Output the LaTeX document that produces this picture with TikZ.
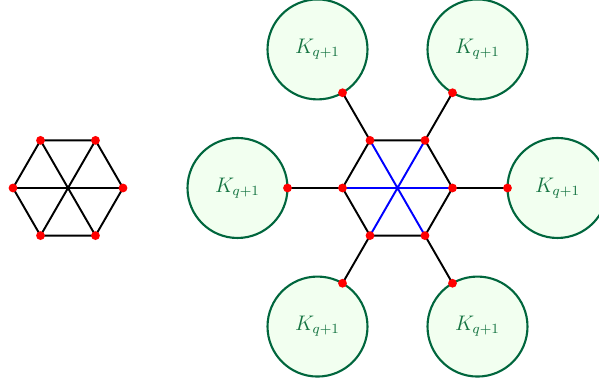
\documentclass[tikz,border=0pt]{standalone}
\begin{document}
\begin{tikzpicture}[x=0.02cm,y=0.02cm,
  edge/.style={line width=1.1pt,black},
  blueedge/.style={line width=1.1pt,blue},
  dot/.style={circle,fill=red,inner sep=0pt,minimum size=5pt},
  clique/.style={circle,draw={rgb,255:red,0;green,102;blue,61},line width=1.2pt,
    fill={rgb,255:red,242;green,255;blue,240},minimum size=2cm,inner sep=0pt,
    text={rgb,255:red,20;green,115;blue,65},font=\large}]
\useasboundingbox (0,0) rectangle (599,381);
% left hexagon
\begin{scope}[shift={(68,193)}]
  \foreach \i/\a in {1/0,2/60,3/120,4/180,5/240,6/300}
    \coordinate (L\i) at (\a:55);
  \draw[edge] (L1)--(L2)--(L3)--(L4)--(L5)--(L6)--cycle;
  \draw[edge] (L1)--(L4) (L2)--(L5) (L3)--(L6);
  \foreach \i in {1,...,6} \node[dot] (Ld\i) at (L\i) {};
\end{scope}
% right hexagon
\begin{scope}[shift={(397.5,193)}]
  \foreach \i/\a in {1/0,2/60,3/120,4/180,5/240,6/300}{
    \coordinate (R\i) at (\a:55);
    \coordinate (P\i) at (\a:110);
    \node[clique] (K\i) at (\a:160) {$K_{q+1}$};
  }
  \draw[blueedge] (R1)--(R4) (R2)--(R5) (R3)--(R6);
  \draw[edge] (R1)--(R2)--(R3)--(R4)--(R5)--(R6)--cycle;
  \foreach \i in {1,...,6} \draw[edge] (R\i)--(P\i);
  \foreach \i in {1,...,6} {\node[dot] (Rd\i) at (R\i) {}; \node[dot] (Pd\i) at (P\i) {};}
\end{scope}
\end{tikzpicture}
\end{document}
